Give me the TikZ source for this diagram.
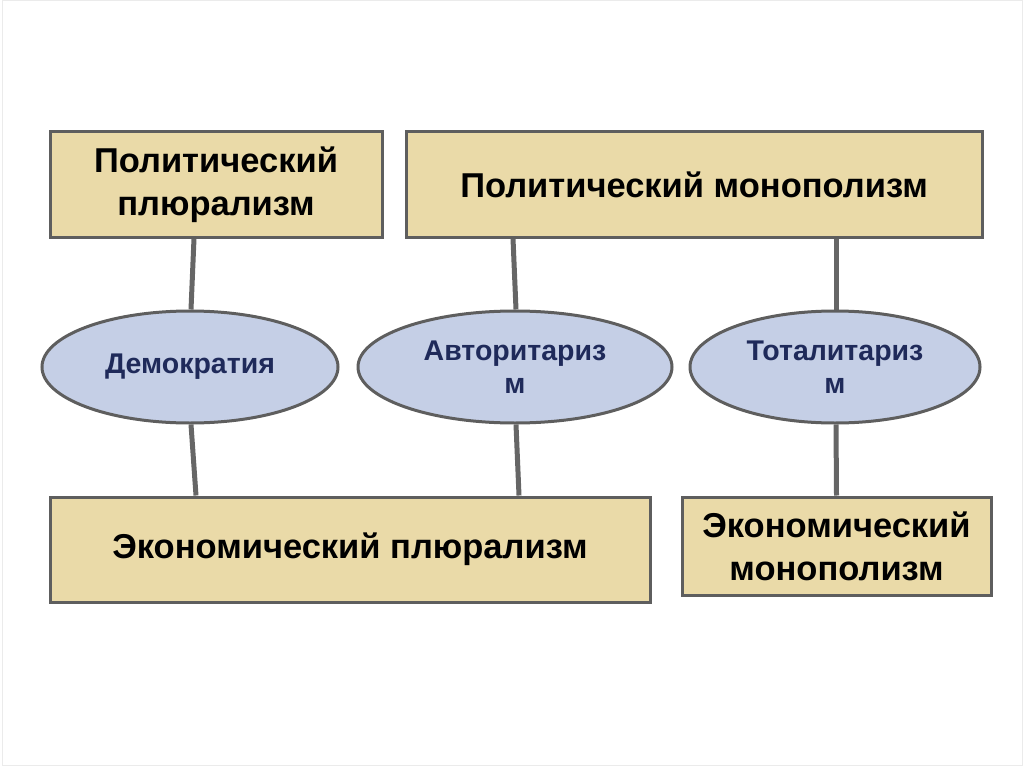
\documentclass[tikz,border=0pt]{standalone}
\usepackage{fontspec}
\setmainfont{Liberation Sans}
\usetikzlibrary{shapes.geometric,backgrounds}
\definecolor{boxfill}{HTML}{EADAA8}
\definecolor{ellfill}{HTML}{C5CFE6}
\definecolor{edge}{HTML}{5E5E5E}
\definecolor{link}{HTML}{666666}
\definecolor{navy}{HTML}{1F2A5A}
\tikzset{
  panel/.style={draw=edge, line width=3pt, fill=boxfill, inner sep=0pt, align=center,
    font=\fontsize{34.5}{43}\selectfont\bfseries, text=black},
  oval/.style={ellipse, draw=edge, line width=3pt, fill=ellfill, inner sep=0pt, align=center,
    font=\fontsize{28.5}{33}\selectfont\bfseries, text=navy},
  link/.style={draw=link, line width=5pt}
}
\begin{document}
\begin{tikzpicture}[x=1pt,y=-1pt]
\useasboundingbox (0,0) rectangle (1024,767);
\draw[draw=black!8, line width=1pt] (2,1) rectangle (1022,765);
\node[panel, minimum width=332pt, minimum height=105pt] (A) at (216,184.5) {Политический\\плюрализм};
\node[panel, minimum width=576pt, minimum height=105pt] (B) at (694,184.5) {Политический монополизм};
\node[panel, minimum width=600pt, minimum height=105pt] (C) at (350,549.5) {Экономический плюрализм};
\node[panel, minimum width=309pt, minimum height=98pt] (D) at (836.5,546) {Экономический\\монополизм};
\node[oval, minimum width=296pt, minimum height=112pt] (E1) at (190,367) {Демократия};
\node[oval, minimum width=314pt, minimum height=112pt] (E2) at (515,367) {Авторитариз\\м};
\node[oval, minimum width=290pt, minimum height=112pt] (E3) at (835,367) {Тоталитариз\\м};
\begin{scope}[on background layer]
\draw[link] ([xshift=-22pt]A.south) -- ([xshift=1pt]E1.north);
\draw[link] ([xshift=1pt]E1.south) -- ([xshift=-154pt]C.north);
\draw[link] ([xshift=-181pt]B.south) -- ([xshift=1pt]E2.north);
\draw[link] ([xshift=1pt]E2.south) -- ([xshift=169pt]C.north);
\draw[link] ([xshift=142pt]B.south) -- ([xshift=1pt]E3.north);
\draw[link] ([xshift=1pt]E3.south) -- (D.north);
\end{scope}
\end{tikzpicture}
\end{document}
